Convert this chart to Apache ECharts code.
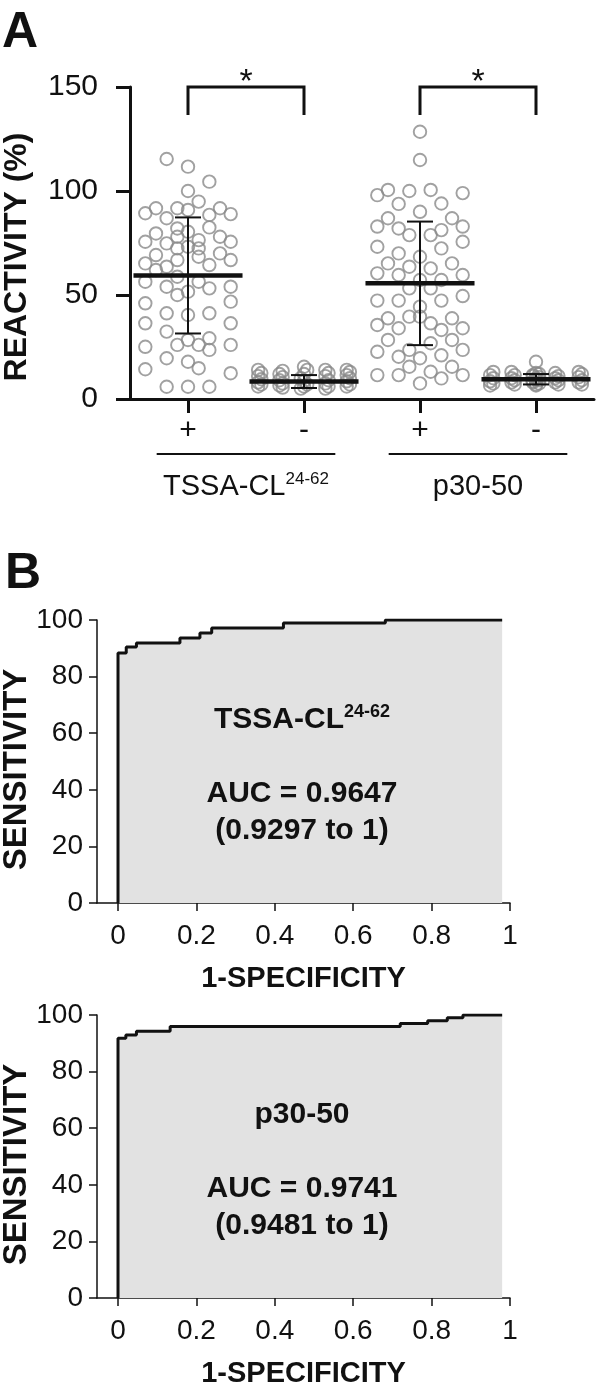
<!DOCTYPE html>
<html>
<head>
<meta charset="utf-8">
<script src="https://cdn.jsdelivr.net/npm/echarts@6/dist/echarts.min.js"></script>
<style>
  html, body { margin: 0; padding: 0; background: #fff; }
  #chart { width: 600px; height: 1387px; }
</style>
</head>
<body>
<div id="chart"></div>
<script>
/********************************DATA********************************/
// panel A: x tick labels and group names under the axis
const groupTicks = ['+', '-', '+', '-']
const groupNames = ['{m|TSSA-CL}{s|24-62}', '{m|p30-50}']

// dot plots: [column slot, reactivity %]
const tssaPos = [
  [-2, 115.4], [0, 111.7], [2, 104.5], [0, 100], [1, 94.9], [-3, 91.7], [-4, 89.3], [-1, 91.7],
  [-2, 86.9], [0, 90.9], [2, 88.5], [3, 91.7], [4, 88.9], [-3, 79.6], [-1, 82], [0, 80.4],
  [2, 82.5], [-4, 75.6], [-2, 74.8], [-1, 78], [1, 76.4], [3, 78], [4, 75.6], [0, 73.2],
  [-1, 72.4], [1, 72.4], [-3, 69.2], [-4, 65.2], [3, 70], [4, 66.8], [-2, 63.6], [-1, 66.8],
  [1, 68.4], [2, 64.4], [-3, 62], [-4, 56.4], [-1, 58.8], [1, 56.4], [-2, 54], [-1, 50],
  [2, 53.2], [4, 54], [0, 51.6], [-4, 46], [4, 46.8], [-2, 41.2], [0, 40.4], [2, 41.2],
  [-4, 36.4], [4, 36.4], [-2, 32.4], [0, 28.4], [-1, 26], [1, 26], [2, 29.2], [2, 23.6],
  [-4, 25.1], [4, 26], [-2, 19.6], [0, 17.9], [1, 14.8], [-4, 14.3], [4, 12.4], [-2, 5.9],
  [0, 5.9], [2, 5.9]
]
const tssaNeg = [
  [-4.3, 14], [-4, 12.5], [-4.3, 11], [-4, 9.5], [-4.3, 8], [-4, 7], [-4.3, 6],
  [-2, 13.5], [-2.3, 12], [-2, 10.5], [-2.3, 9], [-2, 7.5], [-2.3, 6.5], [-2, 5.5],
  [0, 15.5], [0.3, 14], [0, 12], [-0.3, 10], [0, 8.5], [0.3, 7], [0, 6], [-0.3, 5],
  [2, 14], [2.3, 12.5], [2, 11], [2.3, 9], [2, 7.5], [2.3, 6], [2, 5],
  [4, 14], [4.3, 13], [4, 11.5], [4.3, 10], [4, 8.5], [4.3, 7], [4, 6]
]
const p30Pos = [
  [0, 128.5], [0, 114.9], [-4, 98], [-3, 100.5], [-1, 100], [1, 100.5], [4, 99], [-2, 93.8],
  [2, 94], [0, 90], [-3, 86.9], [3, 86.9], [-4, 82.9], [-2, 82], [-1, 78.8], [1, 78.8],
  [2, 81.2], [4, 82.9], [4, 75.6], [-4, 73.2], [-2, 70], [0, 68.4], [2, 72.4], [-3, 65.2],
  [-1, 63.6], [1, 62.8], [3, 65.2], [-4, 60.4], [-2, 59.6], [2, 57.2], [4, 59.6], [0, 57.2],
  [-1, 53.2], [1, 53.2], [-4, 47.3], [-2, 47.3], [2, 47.3], [4, 49.5], [0, 44.4], [-1, 39.6],
  [-3, 38.8], [-4, 35.6], [-2, 34], [1, 36.4], [2, 33.2], [3, 38.8], [4, 34], [0, 39.6],
  [-3, 28.4], [3, 28.4], [1, 26.8], [-4, 22.7], [-2, 20.3], [-1, 23.6], [2, 21], [4, 23.6],
  [0, 19.6], [-4, 11.5], [-2, 11.5], [-1, 15.5], [1, 13.1], [2, 9.9], [3, 15.5], [4, 11.5],
  [0, 7.5]
]
const p30Neg = [
  [-4, 13], [-4.3, 11.5], [-4, 10], [-4.3, 8.5], [-4, 7.5], [-4.3, 6.5],
  [-2.3, 13], [-2, 11.5], [-2.3, 10], [-2, 9], [-2.3, 8], [-2, 7],
  [0, 17.9], [0, 12.5], [-0.3, 11.5], [0.3, 10.5], [0, 9.5], [-0.3, 8.5], [0.3, 7.5], [0, 6.5],
  [0.3, 12], [-0.3, 11], [0, 10], [0.3, 9], [-0.3, 8], [0, 7],
  [1.8, 12.5], [2.1, 11], [1.8, 10], [2.1, 9], [1.8, 8], [2.1, 7],
  [4, 13], [4.3, 12], [4, 10.5], [4.3, 9], [4, 8], [4.3, 7]
]
const groupMeans = [59.4, 8.4, 55.6, 9.5]
const groupSds = [27.9, 3.1, 29.7, 2.5]

// panel B: ROC curves, [1-specificity, sensitivity %]
const rocTssa = [
  [0, 0], [0, 88.3], [0.021, 90.5], [0.047, 91.9], [0.158, 93.6], [0.209, 95.4],
  [0.239, 97.2], [0.422, 98.9], [0.682, 100], [0.98, 100]
]
const rocP30 = [
  [0, 0], [0, 91.8], [0.02, 92.9], [0.047, 94.3], [0.133, 95.9], [0.72, 97],
  [0.79, 98], [0.84, 99], [0.88, 100], [0.98, 100]
]
const specTicks = [0, 0.2, 0.4, 0.6, 0.8, 1]
const rocNames = ['{b|TSSA-CL}{s|24-62}', '{b|p30-50}']
const rocAuc = ['AUC = 0.9647', 'AUC = 0.9741']
const rocCi = ['(0.9297 to 1)', '(0.9481 to 1)']

/********************************SETUP********************************/
const FONT = '"Liberation Sans", Arial, Helvetica, sans-serif'
const INK = '#111'
const SLOT_W = 0.092 // horizontal spacing of dots inside a column, axis units

const dotData = []
;[tssaPos, tssaNeg, p30Pos, p30Neg].forEach((g, i) => {
  g.forEach(([s, v]) => dotData.push([i + 1 + s * SLOT_W, v]))
})

const chart = echarts.init(document.getElementById('chart'))

/********************************RENDERERS********************************/
// mean line with SD whiskers
const renderMean = (params, api) => {
  const x = api.value(0)
  const m = api.value(1)
  const s = api.value(2)
  const l = api.coord([x - 0.47, m])
  const r = api.coord([x + 0.47, m])
  const t = api.coord([x, m + s])
  const b = api.coord([x, m - s])
  const cap = 13
  const thin = { stroke: INK, lineWidth: 2 }
  return {
    type: 'group',
    children: [
      { type: 'line', shape: { x1: t[0], y1: t[1], x2: b[0], y2: b[1] }, style: thin },
      { type: 'line', shape: { x1: t[0] - cap, y1: t[1], x2: t[0] + cap, y2: t[1] }, style: thin },
      { type: 'line', shape: { x1: b[0] - cap, y1: b[1], x2: b[0] + cap, y2: b[1] }, style: thin },
      { type: 'line', shape: { x1: l[0], y1: l[1], x2: r[0], y2: r[1] }, style: { stroke: INK, lineWidth: 4.5 } }
    ]
  }
}

// significance bracket with asterisk
const renderBracket = (params, api) => {
  const a = api.coord([api.value(0), 150])
  const b = api.coord([api.value(1), 150])
  const leg = 28
  return {
    type: 'group',
    children: [
      {
        type: 'polyline',
        shape: { points: [[a[0], a[1] + leg], [a[0], a[1]], [b[0], b[1]], [b[0], b[1] + leg]] },
        style: { stroke: INK, lineWidth: 3, fill: null }
      },
      {
        type: 'text',
        x: (a[0] + b[0]) / 2,
        y: a[1] - 4,
        style: { text: '*', fill: INK, fontSize: 34, fontFamily: FONT, align: 'center', verticalAlign: 'middle' }
      }
    ]
  }
}

// underline + antigen name under the axis
const renderGroupName = (params, api) => {
  const a = api.coord([api.value(0) - 0.27, 0])
  const b = api.coord([api.value(1) + 0.27, 0])
  const y = a[1] + 55
  return {
    type: 'group',
    children: [
      { type: 'line', shape: { x1: a[0], y1: y, x2: b[0], y2: y }, style: { stroke: INK, lineWidth: 1.8 } },
      {
        type: 'text',
        x: (a[0] + b[0]) / 2,
        y: y + 33,
        style: {
          text: groupNames[params.dataIndex],
          align: 'center',
          verticalAlign: 'middle',
          rich: {
            m: { fontSize: 29, fontFamily: FONT, fill: INK, lineHeight: 32 },
            s: { fontSize: 17, fontFamily: FONT, fill: INK, verticalAlign: 'top', lineHeight: 17 }
          }
        }
      }
    ]
  }
}

/********************************AXES********************************/
const ROC_TOPS = [620, 1015]

const rocX = (gi) => ({
  type: 'value',
  gridIndex: gi,
  min: -0.0536,
  max: 1,
  name: '1-SPECIFICITY',
  nameLocation: 'middle',
  nameGap: 61,
  nameTextStyle: { fontFamily: FONT, fontWeight: 'bold', fontSize: 29, color: INK },
  axisLine: { onZero: false, lineStyle: { color: INK, width: 1.5 } },
  axisTick: { customValues: specTicks, length: 8, lineStyle: { color: INK, width: 1.5 } },
  axisLabel: {
    customValues: specTicks,
    margin: 19,
    fontFamily: FONT,
    fontSize: 28,
    color: INK,
    formatter: (v) => String(+v.toFixed(1))
  },
  splitLine: { show: false }
})

const rocY = (gi) => ({
  type: 'value',
  gridIndex: gi,
  min: 0,
  max: 100,
  interval: 20,
  name: 'SENSITIVITY',
  nameLocation: 'middle',
  nameGap: 64,
  nameMoveOverlap: false,
  nameTextStyle: { fontFamily: FONT, fontWeight: 'bold', fontSize: 33, color: INK, padding: [0, 16, 0, 0] },
  axisLine: { show: true, onZero: false, lineStyle: { color: INK, width: 1.5 } },
  axisTick: { show: true, length: 8, lineStyle: { color: INK, width: 1.5 } },
  axisLabel: { margin: 14, fontFamily: FONT, fontSize: 28, color: INK },
  splitLine: { show: false }
})

const rocSeries = (gi, data) => ({
  type: 'line',
  xAxisIndex: gi,
  yAxisIndex: gi,
  data,
  step: 'end',
  showSymbol: false,
  lineStyle: { color: INK, width: 3 },
  areaStyle: { color: '#e2e2e2', opacity: 1 },
  z: 3
})

/********************************OPTION********************************/
const rocText = []
ROC_TOPS.forEach((top, i) => {
  const rich = {
    b: { fontSize: 30, fontWeight: 'bold', fontFamily: FONT, fill: INK, lineHeight: 34 },
    s: { fontSize: 18, fontWeight: 'bold', fontFamily: FONT, fill: INK, verticalAlign: 'top', lineHeight: 18 }
  }
  const base = { fontSize: 30, fontWeight: 'bold', fontFamily: FONT, fill: INK, align: 'center', verticalAlign: 'middle' }
  rocText.push(
    { type: 'text', x: 302, y: top + 100, z: 10, style: { ...base, text: rocNames[i], rich } },
    { type: 'text', x: 302, y: top + 174, z: 10, style: { ...base, text: rocAuc[i] } },
    { type: 'text', x: 302, y: top + 211, z: 10, style: { ...base, text: rocCi[i] } }
  )
})

const option = {
  animation: false,
  backgroundColor: '#fff',
  grid: [
    { left: 130, top: 87, width: 464, height: 312, outerBoundsMode: 'none' },
    { left: 97, top: ROC_TOPS[0], width: 413, height: 283, outerBoundsMode: 'none' },
    { left: 97, top: ROC_TOPS[1], width: 413, height: 283, outerBoundsMode: 'none' }
  ],
  xAxis: [
    {
      type: 'value',
      gridIndex: 0,
      min: 0.5,
      max: 4.5,
      axisLine: { lineStyle: { color: INK, width: 3 } },
      axisTick: { customValues: [1, 2, 3, 4], length: 14, lineStyle: { color: INK, width: 3 } },
      axisLabel: {
        customValues: [1, 2, 3, 4],
        margin: 17,
        fontFamily: FONT,
        fontSize: 30,
        color: INK,
        formatter: (v) => groupTicks[Math.round(v) - 1]
      },
      splitLine: { show: false }
    },
    rocX(1),
    rocX(2)
  ],
  yAxis: [
    {
      type: 'value',
      gridIndex: 0,
      min: 0,
      max: 150,
      interval: 50,
      name: 'REACTIVITY (%)',
      nameLocation: 'middle',
      nameGap: 97,
      nameMoveOverlap: false,
      nameTextStyle: { fontFamily: FONT, fontWeight: 'bold', fontSize: 32, color: INK, padding: [0, 28, 0, 0] },
      axisLine: { show: true, onZero: false, lineStyle: { color: INK, width: 3 } },
      axisTick: { show: true, length: 14, lineStyle: { color: INK, width: 3 } },
      axisLabel: { margin: 32, fontFamily: FONT, fontSize: 30, color: INK },
      splitLine: { show: false }
    },
    rocY(1),
    rocY(2)
  ],
  series: [
    {
      type: 'scatter',
      xAxisIndex: 0,
      yAxisIndex: 0,
      data: dotData,
      symbol: 'circle',
      symbolSize: 12.5,
      itemStyle: { color: 'rgba(255,255,255,0)', borderColor: '#8a8a8a', borderWidth: 1.9 },
      z: 2
    },
    {
      type: 'custom',
      xAxisIndex: 0,
      yAxisIndex: 0,
      data: groupMeans.map((m, i) => [i + 1, m, groupSds[i]]),
      renderItem: renderMean,
      z: 4
    },
    {
      type: 'custom',
      xAxisIndex: 0,
      yAxisIndex: 0,
      clip: false,
      data: [[1, 2], [3, 4]],
      renderItem: renderBracket,
      z: 4
    },
    {
      type: 'custom',
      xAxisIndex: 0,
      yAxisIndex: 0,
      clip: false,
      data: [[1, 2], [3, 4]],
      renderItem: renderGroupName,
      z: 4
    },
    rocSeries(1, rocTssa),
    rocSeries(2, rocP30)
  ],
  graphic: [
    { type: 'text', x: 2, y: 8, style: { text: 'A', fontSize: 50, fontWeight: 'bold', fontFamily: FONT, fill: INK } },
    { type: 'text', x: 5, y: 549, style: { text: 'B', fontSize: 50, fontWeight: 'bold', fontFamily: FONT, fill: INK } },
    ...rocText
  ]
}

chart.setOption(option)
</script>
</body>
</html>
